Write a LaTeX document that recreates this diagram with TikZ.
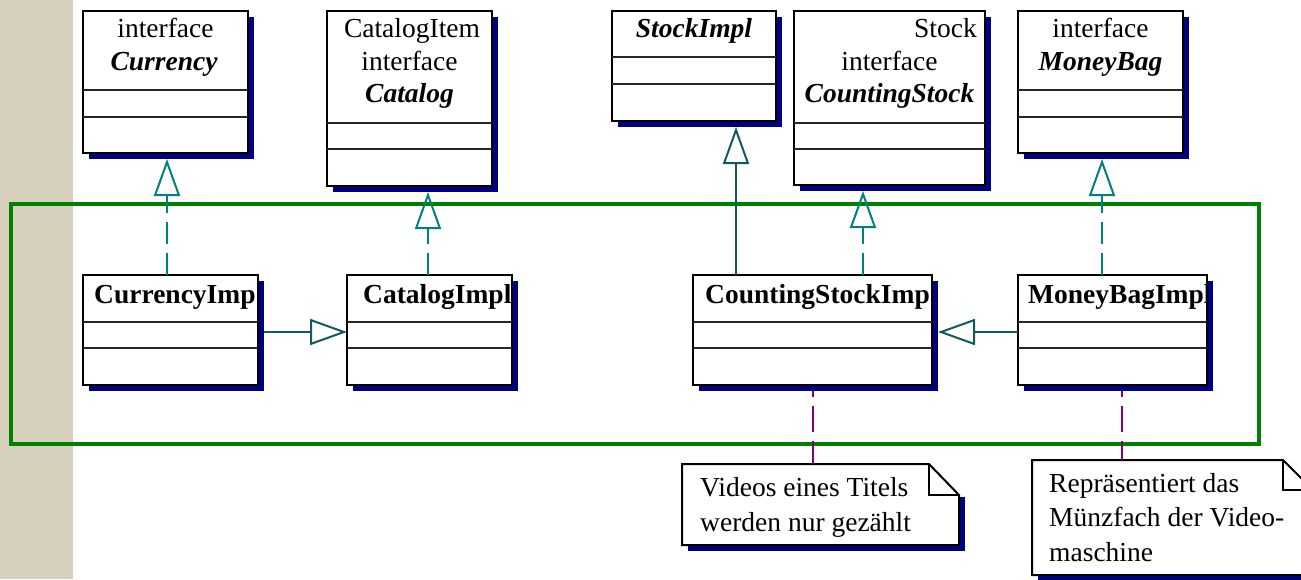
\documentclass[tikz,border=0pt]{standalone}
\usepackage{fontspec}
\setmainfont{Liberation Serif}
\usetikzlibrary{arrows.meta,shadows,calc}
\definecolor{beigec}{RGB}{214,208,188}
\definecolor{greenc}{RGB}{0,128,0}
\definecolor{navyc}{RGB}{0,0,128}
\definecolor{tealc}{RGB}{0,128,128}
\definecolor{dtealc}{RGB}{20,90,90}
\definecolor{purplec}{RGB}{128,0,128}
\begin{document}
\begin{tikzpicture}[x=1pt,y=-1pt,
  cls/.style={draw=black, line width=2pt, fill=white, inner sep=0pt, outer sep=0pt, anchor=north west,
    drop shadow={shadow xshift=6pt, shadow yshift=-6pt, fill=navyc, opacity=1}},
  comp/.style={line width=1.6pt, draw=black!85},
  txt/.style={anchor=base, inner sep=0pt, font=\fontsize{27.5}{32}\selectfont},
  ltxt/.style={txt, anchor=base west},
  realize/.style={draw=tealc, line width=2pt, dash pattern=on 22pt off 9pt,
    -{Triangle[open, length=37pt, width=26pt]}, shorten >=6pt},
  general/.style={draw=dtealc, line width=2pt, -{Triangle[open, length=37pt, width=26pt]}},
  notelink/.style={draw=purplec, line width=2pt, dash pattern=on 26pt off 9pt, dash phase=20pt, shorten <=6pt},
  notebody/.style={draw=black, line width=2pt, fill=white, line join=miter},
  noteshadow/.style={fill=navyc},
  holder/.style={draw=none, inner sep=0pt, outer sep=0pt, anchor=north west}
]
\clip (0,0) rectangle (1301,579);
\fill[white] (0,0) rectangle (1301,579);
\fill[beigec] (0,0) rectangle (73,579);
\draw[greenc, line width=4.5pt] (11,204) rectangle (1259,444);

% interface / class boxes (top row)
\node[cls, minimum width=165pt, minimum height=142pt] (cur) at (83,11) {};
\node[cls, minimum width=165pt, minimum height=175pt] (cat) at (327,11) {};
\node[cls, minimum width=164pt, minimum height=110pt] (sti) at (612,11) {};
\node[cls, minimum width=191pt, minimum height=174pt] (cst) at (794,11) {};
\node[cls, minimum width=165pt, minimum height=142pt] (mb) at (1018,11) {};

\draw[comp] (cur.west |- 0,90) -- (cur.east |- 0,90);
\draw[comp] (cur.west |- 0,117) -- (cur.east |- 0,117);
\draw[comp] (cat.west |- 0,123) -- (cat.east |- 0,123);
\draw[comp] (cat.west |- 0,149) -- (cat.east |- 0,149);
\draw[comp] (sti.west |- 0,57) -- (sti.east |- 0,57);
\draw[comp] (sti.west |- 0,84) -- (sti.east |- 0,84);
\draw[comp] (cst.west |- 0,123) -- (cst.east |- 0,123);
\draw[comp] (cst.west |- 0,149) -- (cst.east |- 0,149);
\draw[comp] (mb.west |- 0,90) -- (mb.east |- 0,90);
\draw[comp] (mb.west |- 0,117) -- (mb.east |- 0,117);

\node[txt] (curt1) at (165.5,37) {interface};
\node[txt] (curt2) at (164,70) {\bfseries\itshape Currency};
\node[txt] (catt1) at (412,37) {CatalogItem};
\node[txt] (catt2) at (409.5,70) {interface};
\node[txt] (catt3) at (409.5,102) {\bfseries\itshape Catalog};
\node[txt] (stit1) at (694,37) {\bfseries\itshape StockImpl};
\node[txt, anchor=base east] (cstt1) at (977,37) {Stock};
\node[txt] (cstt2) at (889.5,70) {interface};
\node[txt] (cstt3) at (889.5,102) {\bfseries\itshape CountingStock};
\node[txt] (mbt1) at (1100.5,37) {interface};
\node[txt] (mbt2) at (1100.5,70) {\bfseries\itshape MoneyBag};

% implementation boxes (lower row)
\node[cls, minimum width=175pt, minimum height=110pt] (ci) at (83,275) {};
\node[cls, minimum width=165pt, minimum height=110pt] (cai) at (347,275) {};
\node[cls, minimum width=239pt, minimum height=110pt] (csi) at (693,275) {};
\node[cls, minimum width=189pt, minimum height=110pt] (mbi) at (1018,275) {};

\foreach \b in {ci,cai,csi,mbi}{
  \draw[comp] (\b.west |- 0,322) -- (\b.east |- 0,322);
  \draw[comp] (\b.west |- 0,348) -- (\b.east |- 0,348);
}
\begin{scope}
  \clip (ci.north west) rectangle (ci.south east);
  \node[ltxt] (cit) at (94,303) {\bfseries CurrencyImp};
\end{scope}
\begin{scope}
  \clip (cai.north west) rectangle (cai.south east);
  \node[ltxt] (cait) at (363,303) {\bfseries CatalogImpl};
\end{scope}
\begin{scope}
  \clip (csi.north west) rectangle (csi.south east);
  \node[ltxt] (csit) at (705,303) {\bfseries CountingStockImp};
\end{scope}
\begin{scope}
  \clip (mbi.north west) rectangle (mbi.south east);
  \node[ltxt] (mbit) at (1028,303) {\bfseries MoneyBagImpl};
\end{scope}

% connectors
\coordinate (xa) at (167,0);
\coordinate (xb) at (428,0);
\coordinate (xc) at (736,0);
\coordinate (xd) at (863,0);
\coordinate (xe) at (1102,0);
\coordinate (yh) at (0,332);
\coordinate (xp1) at (813,0);
\coordinate (xp2) at (1122,0);

\draw[realize] (ci.north -| xa) -- (cur.south -| xa);
\draw[realize] (cai.north -| xb) -- (cat.south -| xb);
\draw[general, shorten >=6pt] (csi.north -| xc) -- (sti.south -| xc);
\draw[realize] (csi.north -| xd) -- (cst.south -| xd);
\draw[realize] (mbi.north -| xe) -- (mb.south -| xe);
\draw[general, shorten <=6pt] (ci.east |- yh) -- (cai.west |- yh);
\draw[general, shorten >=6pt] (mbi.west |- yh) -- (csi.east |- yh);

% notes
\node[holder, minimum width=277pt, minimum height=81pt] (n1) at (682,464) {};
\node[holder, minimum width=281pt, minimum height=115pt] (n2) at (1032,460) {};

\fill[noteshadow] (688,497) rectangle (965,551);
\draw[notebody] (682,464) -- (929,464) -- (959,495) -- (959,545) -- (682,545) -- cycle;
\draw[line width=2pt] (929,464) -- (929,495) -- (959,495);
\node[ltxt] (n1t1) at (700,496) {Videos eines Titels};
\node[ltxt] (n1t2) at (700,531) {werden nur gezählt};

\fill[noteshadow] (1038,493) rectangle (1319,581);
\draw[notebody] (1032,460) -- (1283,460) -- (1313,490) -- (1313,575) -- (1032,575) -- cycle;
\draw[line width=2pt] (1283,460) -- (1283,490) -- (1313,490);
\node[ltxt] (n2t1) at (1049,492) {Repräsentiert das};
\node[ltxt] (n2t2) at (1049,526) {Münzfach der Video-};
\node[ltxt] (n2t3) at (1049,561) {maschine};

\draw[notelink] (csi.south -| xp1) -- (n1.north -| xp1);
\draw[notelink] (mbi.south -| xp2) -- (n2.north -| xp2);
\end{tikzpicture}
\end{document}
